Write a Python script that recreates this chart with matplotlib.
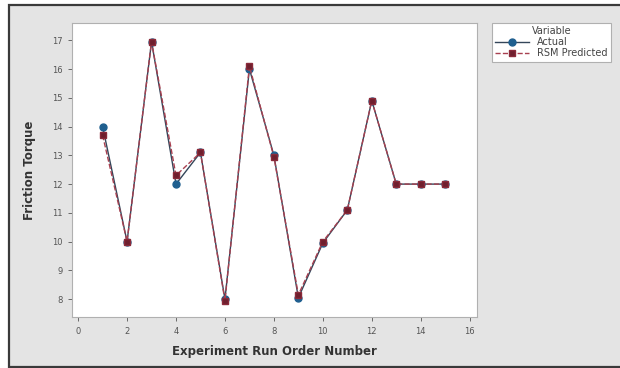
import matplotlib.pyplot as plt
from matplotlib.patches import Rectangle

# run order and friction torque values
run_order = [1, 2, 3, 4, 5, 6, 7, 8, 9, 10, 11, 12, 13, 14, 15]
actual = [14.0, 10.0, 16.95, 12.0, 13.1, 8.0, 16.0, 13.0, 8.05, 9.95, 11.1, 14.9, 12.0, 12.0, 12.0]
rsm_pred = [13.7, 10.0, 16.95, 12.3, 13.1, 7.95, 16.1, 12.95, 8.15, 10.0, 11.1, 14.9, 12.0, 12.0, 12.0]

x_ticks = [0, 2, 4, 6, 8, 10, 12, 14, 16]
y_ticks = [8, 9, 10, 11, 12, 13, 14, 15, 16, 17]

fig = plt.figure(figsize=(6.2, 3.68), dpi=100)
fig.patch.set_facecolor('white')

# gray panel with dark frame
fig.patches.append(Rectangle((9 / 620, 1.5 / 368), 1.0, 1 - 6.5 / 368,
                             transform=fig.transFigure, facecolor='#e4e4e4',
                             edgecolor='#3a3a3a', linewidth=1.6, zorder=-5))

ax = fig.add_axes([72 / 620, 51 / 368, 405 / 620, 294 / 368])
ax.set_facecolor('white')

ax.plot(run_order, actual, color='#34465a', lw=1.0, marker='o', ms=5,
        mfc='#1f5f8f', mec='#1f5f8f', label='Actual', zorder=3)
ax.plot(run_order, rsm_pred, color='#a84050', lw=1.0, ls='--', marker='s', ms=5,
        mfc='#6e1f2e', mec='#8a2a3a', label='RSM Predicted', zorder=4)

ax.set_xlim(-0.25, 16.3)
ax.set_ylim(7.38, 17.6)
ax.set_xticks(x_ticks)
ax.set_yticks(y_ticks)
ax.tick_params(labelsize=6, colors='#555555', length=3, width=0.6, pad=4)

for s in ax.spines.values():
    s.set_color('#b0b0b0')
    s.set_linewidth(0.8)

ax.set_xlabel('Experiment Run Order Number', fontsize=8.5, fontweight='bold',
              color='#333333', labelpad=7)
ax.set_ylabel('Friction Torque', fontsize=8.5, fontweight='bold',
              color='#333333', labelpad=11)

leg = fig.legend(loc='upper left', bbox_to_anchor=(492 / 620, 1 - 23 / 368),
                 title='Variable', fontsize=7, title_fontsize=7,
                 frameon=True, fancybox=False, borderaxespad=0,
                 handlelength=3.5, labelspacing=0.1, borderpad=0.35)
leg.get_frame().set_edgecolor('#b0b0b0')
leg.get_frame().set_facecolor('white')
leg.get_frame().set_alpha(1)
leg.get_frame().set_linewidth(0.8)
leg.get_title().set_color('#444444')
for t in leg.get_texts():
    t.set_color('#444444')

fig.savefig('out.png', dpi=100)
